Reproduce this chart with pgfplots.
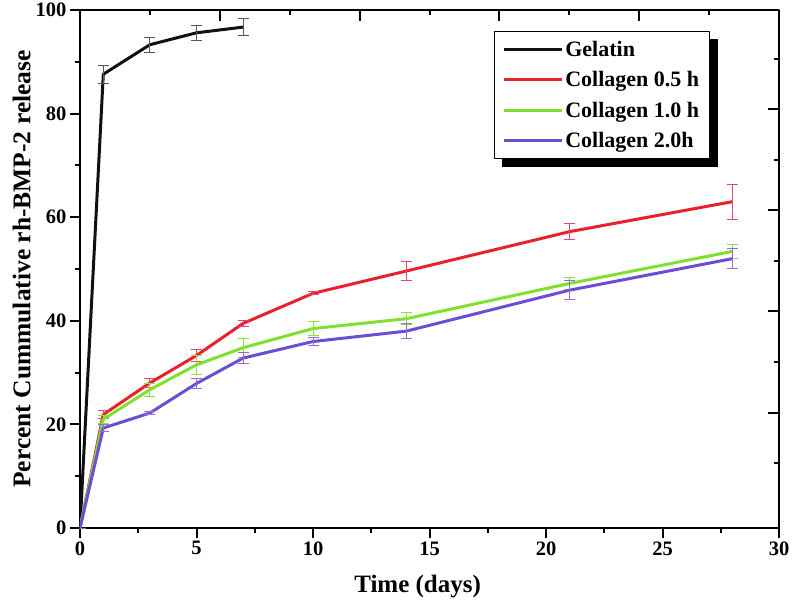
\documentclass[border=0pt]{standalone}
\usepackage{pgfplots}
\pgfplotsset{compat=1.18}
\usepackage{pgfplotstable}
\usepackage{fontspec}
\setmainfont{Liberation Serif}
\usetikzlibrary{backgrounds}

\definecolor{cgel}{HTML}{111111}
\definecolor{cgelerr}{HTML}{555555}
\definecolor{cred}{HTML}{E8212B}
\definecolor{crederr}{HTML}{E0467A}
\definecolor{cgreen}{HTML}{7FE030}
\definecolor{cgreenerr}{HTML}{8CE03C}
\definecolor{cpurple}{HTML}{6A4FD6}
\definecolor{cpurpleerr}{HTML}{9A6AD8}

\pgfplotstableread{
x y e
0 0 0
1 87.6 1.7
3 93.3 1.4
5 95.6 1.5
7 96.7 1.7
}\gelatin
\pgfplotstableread{
x y e
0 0 0
1 21.9 0.8
3 28.0 0.8
5 33.3 1.2
7 39.5 0.5
10 45.3 0.3
14 49.6 1.8
21 57.2 1.5
28 63.0 3.4
}\colA
\pgfplotstableread{
x y e
0 0 0
1 21.0 0.8
3 26.7 1.3
5 31.5 1.9
7 34.8 1.8
10 38.5 1.4
14 40.4 1.2
21 47.2 1.1
28 53.4 1.3
}\colB
\pgfplotstableread{
x y e
0 0 0
1 19.3 0.6
3 22.2 0.3
5 27.9 0.9
7 32.8 1.0
10 36.0 0.8
14 38.0 1.4
21 45.9 1.8
28 52.0 1.9
}\colC

\begin{document}
\begin{tikzpicture}
\useasboundingbox (-80pt,-75pt) rectangle (712pt,528pt);
\begin{axis}[
  scale only axis,
  width=699pt, height=518pt,
  xmin=0, xmax=30, ymin=0, ymax=100,
  xtick={0,5,10,15,20,25,30},
  ytick={0,20,40,60,80,100},
  minor x tick num=1,
  minor y tick num=1,
  xtick pos=left, ytick pos=left,
  tick align=outside,
  major tick length=10pt,
  minor tick length=5pt,
  every tick/.style={line width=2pt, black},
  axis line style={line width=2pt, black},
  /pgf/number format/assume math mode=true,
  ticklabel style={font=\fontsize{20.5}{20.5}\selectfont\bfseries},
  xlabel={Time (days)},
  ylabel={Percent Cummulative rh-BMP-2 release},
  every axis x label/.style={at={(axis description cs:0.483,-0.1139)}, anchor=center, font=\fontsize{25}{25}\selectfont\bfseries},
  every axis y label/.style={at={(axis description cs:-0.0835,0.5)}, rotate=90, anchor=center, font=\fontsize{25.5}{25.5}\selectfont\bfseries},
  legend cell align=left,
  legend image code/.code={\draw[#1] (0pt,0pt) -- (58pt,0pt);},
  legend style={at={(rel axis cs:0.592,0.959)}, anchor=north west,
    name=leg,
    draw=black, line width=1pt, fill=white,
    font=\fontsize{22}{22}\selectfont\bfseries,
    row sep=9.5pt, inner xsep=8pt, inner ysep=7.5pt},
  line join=round,
]
\addplot[cgel, line width=3pt, mark=none,
  error bars/.cd, y dir=both, y explicit,
  error bar style={line width=0.9pt, cgelerr},
  error mark options={rotate=90, mark size=5.5pt, line width=0.9pt, cgelerr}]
  table[x=x, y=y, y error=e] {\gelatin};
\addlegendentry{Gelatin}
\addplot[cred, line width=3pt, mark=none,
  error bars/.cd, y dir=both, y explicit,
  error bar style={line width=0.9pt, crederr},
  error mark options={rotate=90, mark size=5.5pt, line width=0.9pt, crederr}]
  table[x=x, y=y, y error=e] {\colA};
\addlegendentry{Collagen 0.5 h}
\addplot[cgreen, line width=3pt, mark=none,
  error bars/.cd, y dir=both, y explicit,
  error bar style={line width=0.9pt, cgreenerr},
  error mark options={rotate=90, mark size=5.5pt, line width=0.9pt, cgreenerr}]
  table[x=x, y=y, y error=e] {\colB};
\addlegendentry{Collagen 1.0 h}
\addplot[cpurple, line width=3pt, mark=none,
  error bars/.cd, y dir=both, y explicit,
  error bar style={line width=0.9pt, cpurpleerr},
  error mark options={rotate=90, mark size=5.5pt, line width=0.9pt, cpurpleerr}]
  table[x=x, y=y, y error=e] {\colC};
\addlegendentry{Collagen 2.0h}
\end{axis}
\begin{pgfonlayer}{background}
\fill[black] ([shift={(8pt,-8pt)}]leg.south west) rectangle ([shift={(8pt,-8pt)}]leg.north east);
\end{pgfonlayer}
\begin{axis}[
  scale only axis,
  width=699pt, height=518pt,
  xmin=0, xmax=30, ymin=0, ymax=100,
  axis line style={draw=none},
  xtick={6,12,18,24},
  minor xtick={3,9,15,21,27},
  ytick={22.2,41.8,61.3,80.8},
  minor ytick={12.6,32.1,51.6,71,90.5},
  xtick pos=right, ytick pos=right,
  tick align=inside,
  major tick length=11pt,
  minor tick length=5.5pt,
  every tick/.style={line width=2pt, black},
  xticklabels={}, yticklabels={},
]
\end{axis}
\end{tikzpicture}
\end{document}
